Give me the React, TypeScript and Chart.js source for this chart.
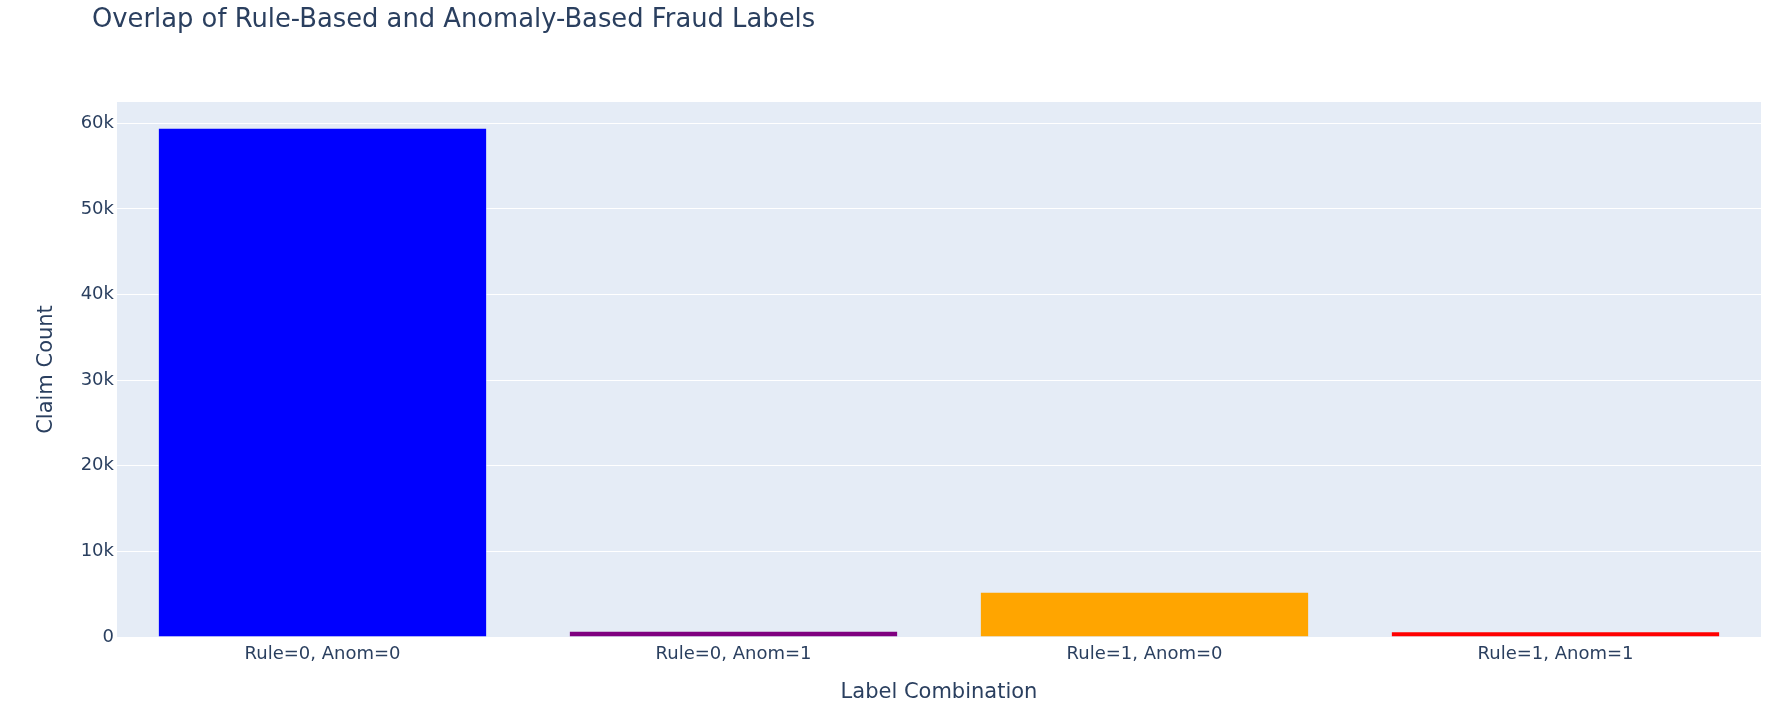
import { useEffect, useRef } from 'react';
import { Chart, registerables, Plugin } from 'chart.js';

Chart.register(...registerables);

const chartTitle = 'Overlap of Rule-Based and Anomaly-Based Fraud Labels';
const categories = ['Rule=0, Anom=0', 'Rule=0, Anom=1', 'Rule=1, Anom=0', 'Rule=1, Anom=1'];
const claimCounts = [59450, 700, 5250, 650];
const barColors = ['#0000ff', '#800080', '#ffa500', '#ff0000'];
const yTickValues = [0, 10000, 20000, 30000, 40000, 50000, 60000];
const yTickLabels = ['0', '10k', '20k', '30k', '40k', '50k', '60k'];

const FONT = '"DejaVu Sans", Verdana, sans-serif';
const TEXT = '#2a3f5f';

// plot background + left aligned title, plotly style
const plotlyLook: Plugin<'bar'> = {
  id: 'plotlyLook',
  beforeDraw(chart) {
    const { ctx, chartArea } = chart;
    ctx.save();
    ctx.fillStyle = '#e5ecf6';
    ctx.fillRect(chartArea.left, chartArea.top, chartArea.right - chartArea.left, chartArea.bottom - chartArea.top);
    ctx.restore();
  },
  afterDraw(chart) {
    const { ctx } = chart;
    ctx.save();
    ctx.fillStyle = TEXT;
    ctx.font = `25.8px ${FONT}`;
    ctx.textAlign = 'left';
    ctx.textBaseline = 'alphabetic';
    ctx.fillText(chartTitle, 92, 27);
    ctx.restore();
  },
};

export default function App() {
  const chartRef = useRef<HTMLCanvasElement>(null);
  const chartInstance = useRef<Chart | null>(null);

  useEffect(() => {
    document.body.style.margin = '0';
    if (!chartRef.current) return;
    if (chartInstance.current) chartInstance.current.destroy();

    chartInstance.current = new Chart(chartRef.current, {
      type: 'bar',
      data: {
        labels: categories,
        datasets: [
          {
            label: 'Claim Count',
            data: claimCounts,
            backgroundColor: barColors,
            borderColor: 'rgba(229, 236, 246, 0.6)',
            borderWidth: 0.75,
            categoryPercentage: 0.8,
            barPercentage: 1.0,
          },
        ],
      },
      options: {
        animation: false,
        responsive: true,
        maintainAspectRatio: false,
        layout: { padding: { top: 102, right: 28, bottom: 0, left: 0 } },
        scales: {
          x: {
            grid: { display: false, drawTicks: false },
            border: { display: false },
            ticks: { color: TEXT, font: { family: FONT, size: 18 }, padding: 7 },
            title: {
              display: true,
              text: 'Label Combination',
              color: TEXT,
              font: { family: FONT, size: 21 },
              padding: { top: 0, bottom: 12 },
            },
            afterFit: (scale) => {
              scale.height = 80;
            },
          },
          y: {
            min: 0,
            max: 62500,
            grid: { color: '#ffffff', lineWidth: 1, drawTicks: false },
            border: { display: false },
            afterBuildTicks: (scale) => {
              scale.ticks = yTickValues.map((value) => ({ value }));
            },
            ticks: {
              color: TEXT,
              font: { family: FONT, size: 18 },
              padding: 3,
              callback: (_value, index) => yTickLabels[index],
            },
            title: {
              display: true,
              text: 'Claim Count',
              color: TEXT,
              font: { family: FONT, size: 21 },
              padding: { top: 34, bottom: 0 },
            },
            afterFit: (scale) => {
              scale.width = 117;
            },
          },
        },
        plugins: {
          legend: { display: false },
          title: { display: false },
          tooltip: { enabled: true },
        },
      },
      plugins: [plotlyLook],
    });

    return () => {
      if (chartInstance.current) {
        chartInstance.current.destroy();
        chartInstance.current = null;
      }
    };
  }, []);

  return (
    <div style={{ width: 1789, height: 717, position: 'relative', background: '#ffffff' }}>
      <canvas ref={chartRef}></canvas>
    </div>
  );
}
